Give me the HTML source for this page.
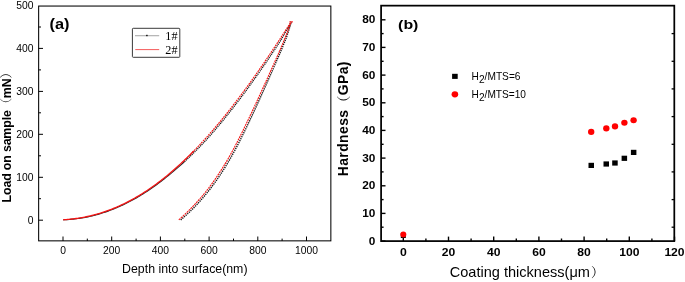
<!DOCTYPE html>
<html><head><meta charset="utf-8"><title>figure</title>
<style>html,body{margin:0;padding:0;background:#fff;}body{width:685px;height:282px;overflow:hidden;position:relative}</style></head>
<body>
<svg width="685" height="282" viewBox="0 0 685 282" style="display:block;position:absolute;left:0;top:0;will-change:transform;opacity:0.999">
<g font-family="Liberation Sans, Arial, sans-serif" fill="#000">
<rect x="38.65" y="6.05" width="292.2" height="234.8" fill="none" stroke="#000" stroke-width="1.05"/>
<line x1="38.6" x2="43" y1="220.2" y2="220.2" stroke="#000" stroke-width="1"/>
<text x="33.5" y="223.5" font-size="10.3" text-anchor="end">0</text>
<line x1="38.6" x2="43" y1="177.3" y2="177.3" stroke="#000" stroke-width="1"/>
<text x="33.5" y="180.6" font-size="10.3" text-anchor="end">100</text>
<line x1="38.6" x2="43" y1="134.3" y2="134.3" stroke="#000" stroke-width="1"/>
<text x="33.5" y="137.6" font-size="10.3" text-anchor="end">200</text>
<line x1="38.6" x2="43" y1="91.4" y2="91.4" stroke="#000" stroke-width="1"/>
<text x="33.5" y="94.7" font-size="10.3" text-anchor="end">300</text>
<line x1="38.6" x2="43" y1="48.4" y2="48.4" stroke="#000" stroke-width="1"/>
<text x="33.5" y="51.7" font-size="10.3" text-anchor="end">400</text>
<text x="33.5" y="8.8" font-size="10.3" text-anchor="end">500</text>
<line x1="38.6" x2="41" y1="198.7" y2="198.7" stroke="#000" stroke-width="1"/>
<line x1="38.6" x2="41" y1="155.8" y2="155.8" stroke="#000" stroke-width="1"/>
<line x1="38.6" x2="41" y1="112.8" y2="112.8" stroke="#000" stroke-width="1"/>
<line x1="38.6" x2="41" y1="69.9" y2="69.9" stroke="#000" stroke-width="1"/>
<line x1="38.6" x2="41" y1="27.0" y2="27.0" stroke="#000" stroke-width="1"/>
<line x1="63.0" x2="63.0" y1="241" y2="236.5" stroke="#000" stroke-width="1"/>
<text x="63.0" y="253.7" font-size="10.3" text-anchor="middle">0</text>
<line x1="111.7" x2="111.7" y1="241" y2="236.5" stroke="#000" stroke-width="1"/>
<text x="111.7" y="253.7" font-size="10.3" text-anchor="middle">200</text>
<line x1="160.4" x2="160.4" y1="241" y2="236.5" stroke="#000" stroke-width="1"/>
<text x="160.4" y="253.7" font-size="10.3" text-anchor="middle">400</text>
<line x1="209.1" x2="209.1" y1="241" y2="236.5" stroke="#000" stroke-width="1"/>
<text x="209.1" y="253.7" font-size="10.3" text-anchor="middle">600</text>
<line x1="257.8" x2="257.8" y1="241" y2="236.5" stroke="#000" stroke-width="1"/>
<text x="257.8" y="253.7" font-size="10.3" text-anchor="middle">800</text>
<line x1="306.5" x2="306.5" y1="241" y2="236.5" stroke="#000" stroke-width="1"/>
<text x="306.5" y="253.7" font-size="10.3" text-anchor="middle">1000</text>
<line x1="87.3" x2="87.3" y1="241" y2="238.6" stroke="#000" stroke-width="1"/>
<line x1="136.1" x2="136.1" y1="241" y2="238.6" stroke="#000" stroke-width="1"/>
<line x1="184.8" x2="184.8" y1="241" y2="238.6" stroke="#000" stroke-width="1"/>
<line x1="233.5" x2="233.5" y1="241" y2="238.6" stroke="#000" stroke-width="1"/>
<line x1="282.1" x2="282.1" y1="241" y2="238.6" stroke="#000" stroke-width="1"/>
<text x="184.8" y="272.5" font-size="12.1" text-anchor="middle" textLength="125.4" lengthAdjust="spacingAndGlyphs">Depth into surface(nm)</text>
<text transform="translate(11.4,202.4) rotate(-90)" font-size="12.4" font-weight="bold" textLength="136.3" lengthAdjust="spacing">Load on sample<tspan font-weight="normal" font-family="Noto Serif CJK SC, serif">（</tspan>mN<tspan font-weight="normal" font-family="Noto Serif CJK SC, serif">）</tspan></text>
<text x="49.5" y="29.2" font-size="14.2" font-weight="bold" textLength="20" lengthAdjust="spacingAndGlyphs">(a)</text>
<path d="M63.30,219.83 L64.75,219.76 L66.20,219.68 L67.65,219.59 L69.11,219.48 L70.56,219.36 L72.01,219.23 L73.46,219.09 L74.91,218.93 L76.36,218.76 L77.82,218.57 L79.27,218.37 L80.72,218.16 L82.17,217.93 L83.62,217.69 L85.07,217.43 L86.52,217.16 L87.96,216.86 L89.40,216.55 L90.83,216.22 L92.27,215.87 L93.71,215.51 L95.14,215.14 L96.58,214.75 L98.01,214.35 L99.45,213.93 L100.89,213.50 L102.32,213.05 L103.76,212.59 L105.20,212.11 L106.63,211.62 L108.07,211.11 L109.50,210.59 L110.94,210.05 L112.38,209.49 L113.81,208.92 L115.25,208.34 L116.69,207.74 L118.12,207.12 L119.56,206.49 L120.99,205.84 L122.43,205.17 L123.87,204.49 L125.30,203.80 L126.74,203.09 L128.18,202.36 L129.61,201.62 L131.05,200.86 L132.49,200.08 L133.92,199.29 L135.36,198.49 L136.79,197.66 L138.23,196.82 L139.67,195.97 L141.10,195.10 L142.54,194.21 L143.98,193.31 L145.41,192.39 L146.85,191.45 L148.28,190.50 L149.72,189.54 L151.16,188.55 L152.59,187.55 L154.03,186.54 L155.47,185.51 L156.90,184.46 L158.34,183.39 L159.77,182.31 L161.21,181.22 L162.65,180.11 L164.08,178.98 L165.52,177.84 L166.97,176.68 L168.42,175.52 L169.88,174.34 L171.34,173.14 L172.80,171.93 L174.26,170.70 L175.72,169.45 L177.18,168.20 L178.64,166.92 L180.09,165.63 L181.55,164.32 L183.01,163.00 L184.47,161.66" fill="none" stroke="#2a2a2a" stroke-width="1.1"/>
<path d="M184.47,161.66 L185.93,160.31 L187.39,158.94 L188.85,157.56 L190.30,156.16 L191.76,154.75 L193.22,153.32 L194.68,151.87 L196.14,150.41 L197.60,148.94 L199.06,147.45 L200.51,145.95 L201.97,144.43 L203.43,142.89 L204.89,141.34 L206.34,139.78 L207.77,138.18 L209.20,136.58 L210.64,134.96 L212.07,133.32 L213.50,131.67 L214.93,130.01 L216.37,128.33 L217.80,126.64 L219.23,124.94 L220.66,123.22 L222.10,121.49 L223.53,119.74 L224.96,117.98 L226.40,116.21 L227.83,114.43 L229.26,112.63 L230.69,110.82 L232.13,108.99 L233.56,107.16 L234.99,105.31 L236.42,103.45 L237.86,101.57 L239.29,99.69 L240.72,97.79 L242.16,95.88 L243.59,93.95 L245.02,92.02 L246.45,90.08 L247.89,88.12 L249.32,86.15 L250.75,84.17 L252.18,82.18 L253.62,80.18 L255.05,78.16 L256.48,76.14 L257.92,74.11 L259.35,72.06 L260.78,70.01 L262.21,67.95 L263.65,65.87 L265.08,63.79 L266.51,61.69 L267.94,59.59 L269.38,57.48 L270.81,55.36 L272.24,53.23 L273.67,51.09 L275.11,48.94 L276.54,46.79 L277.97,44.62 L279.41,42.45 L280.84,40.27 L282.15,38.00 L283.46,35.72 L284.77,33.43 L286.07,31.13 L287.38,28.83 L288.69,26.52 L289.99,24.20 L291.30,21.88" fill="none" stroke="#1a1a1a" stroke-width="1.3" stroke-dasharray="1.2 0.8"/>
<path d="M180.69,219.90 L182.14,218.66 L183.56,217.41 L184.96,216.17 L186.34,214.92 L187.69,213.68 L189.03,212.43 L190.34,211.19 L191.63,209.94 L192.87,208.70 L194.08,207.45 L195.28,206.21 L196.46,204.96 L197.62,203.72 L198.76,202.47 L199.88,201.23 L200.99,199.99 L202.08,198.74 L203.15,197.50 L204.21,196.25 L205.25,195.01 L206.28,193.76 L207.29,192.52 L208.28,191.27 L209.27,190.03 L210.23,188.78 L211.19,187.54 L212.13,186.29 L213.06,185.05 L213.97,183.81 L214.88,182.56 L215.77,181.32 L216.65,180.07 L217.51,178.83 L218.37,177.58 L219.22,176.34 L220.05,175.09 L220.88,173.85 L221.69,172.60 L222.50,171.36 L223.29,170.11 L224.08,168.87 L224.85,167.62 L225.62,166.38 L226.38,165.14 L227.13,163.89 L227.88,162.65 L228.61,161.40 L229.34,160.16 L230.06,158.91 L230.77,157.67 L231.47,156.42 L232.17,155.18 L232.86,153.93 L233.55,152.69 L234.23,151.44 L234.90,150.20 L235.57,148.95 L236.23,147.71 L236.89,146.47 L237.54,145.22 L238.19,143.98 L238.83,142.73 L239.47,141.49 L240.11,140.24 L240.74,139.00 L241.37,137.75 L241.99,136.51 L242.61,135.26 L243.22,134.02 L243.84,132.77 L244.45,131.53 L245.06,130.28 L245.66,129.04 L246.26,127.80 L246.86,126.55 L247.46,125.31 L248.05,124.06 L248.65,122.82 L249.24,121.57 L249.83,120.33 L250.41,119.08 L251.00,117.84 L251.58,116.59 L252.16,115.35 L252.74,114.10 L253.32,112.86 L253.90,111.62 L254.48,110.37 L255.05,109.13 L255.63,107.88 L256.20,106.64 L256.77,105.39 L257.34,104.15 L257.91,102.90 L258.48,101.66 L259.05,100.41 L259.61,99.17 L260.18,97.92 L260.74,96.68 L261.30,95.43 L261.86,94.19 L262.42,92.95 L262.98,91.70 L263.54,90.46 L264.10,89.21 L264.66,87.97 L265.21,86.72 L265.77,85.48 L266.33,84.23 L266.88,82.99 L267.44,81.74 L267.99,80.50 L268.55,79.25 L269.10,78.01 L269.65,76.76 L270.21,75.52 L270.76,74.28 L271.31,73.03 L271.86,71.79 L272.41,70.54 L272.96,69.30 L273.50,68.05 L274.05,66.81 L274.59,65.56 L275.14,64.32 L275.68,63.07 L276.22,61.83 L276.76,60.58 L277.30,59.34 L277.84,58.09 L278.37,56.85 L278.90,55.61 L279.44,54.36 L279.96,53.12 L280.49,51.87 L281.02,50.63 L281.54,49.38 L282.06,48.14 L282.57,46.89 L283.09,45.65 L283.60,44.40 L284.11,43.16 L284.61,41.91 L285.11,40.67 L285.61,39.43 L286.11,38.18 L286.55,36.94 L286.97,35.69 L287.39,34.45 L287.80,33.20 L288.20,31.96 L288.60,30.71 L289.00,29.47 L289.39,28.22 L289.78,26.98 L290.16,25.73 L290.54,24.49 L290.91,23.24 L291.27,22.00" fill="none" stroke="#1a1a1a" stroke-width="1.4" stroke-dasharray="1.3 0.9"/>
<path d="M192.24,152.53 L193.68,151.07 L195.11,149.60 L196.54,148.11 L197.97,146.61 L199.41,145.09 L200.84,143.56 L202.27,142.01 L203.71,140.45 L205.14,138.88 L206.57,137.29 L208.00,135.68 L209.44,134.06 L210.87,132.43 L212.30,130.78 L213.73,129.12 L215.17,127.45 L216.60,125.76 L218.03,124.06 L219.46,122.34 L220.90,120.61 L222.33,118.87 L223.76,117.11 L225.20,115.34 L226.63,113.56 L228.06,111.76 L229.49,109.95 L230.93,108.13 L232.36,106.29 L233.79,104.45 L235.22,102.59 L236.66,100.72 L238.09,98.83 L239.52,96.93 L240.96,95.03 L242.39,93.11 L243.82,91.17 L245.25,89.23 L246.69,87.27 L248.12,85.31 L249.55,83.33 L250.98,81.34 L252.42,79.34 L253.85,77.33 L255.28,75.31 L256.72,73.28 L258.15,71.24 L259.58,69.18 L261.01,67.12 L262.45,65.05 L263.88,62.97 L265.31,60.87 L266.74,58.77 L268.18,56.66 L269.61,54.54 L271.04,52.42 L272.47,50.28 L273.91,48.13 L275.34,45.98 L276.77,43.82 L278.21,41.65 L279.64,39.47 L281.07,37.28 L282.50,35.09 L283.94,32.89 L285.37,30.68 L286.80,28.47 L288.23,26.24 L289.67,24.02 L291.10,21.78" fill="none" stroke="#f41414" stroke-width="1.15" stroke-dasharray="1.8 0.8"/>
<path d="M63.30,219.73 L64.73,219.64 L66.17,219.54 L67.60,219.43 L69.03,219.31 L70.46,219.17 L71.90,219.02 L73.33,218.86 L74.76,218.68 L76.19,218.49 L77.63,218.28 L79.06,218.06 L80.49,217.83 L81.93,217.59 L83.36,217.32 L84.79,217.05 L86.22,216.76 L87.66,216.46 L89.09,216.14 L90.52,215.81 L91.95,215.46 L93.39,215.10 L94.82,214.73 L96.25,214.33 L97.68,213.93 L99.12,213.51 L100.55,213.07 L101.98,212.62 L103.42,212.16 L104.85,211.68 L106.28,211.18 L107.71,210.67 L109.15,210.14 L110.58,209.60 L112.01,209.04 L113.44,208.47 L114.88,207.88 L116.31,207.28 L117.74,206.66 L119.18,206.02 L120.61,205.37 L122.04,204.71 L123.47,204.02 L124.91,203.33 L126.34,202.61 L127.77,201.88 L129.20,201.14 L130.64,200.37 L132.07,199.60 L133.50,198.80 L134.94,197.99 L136.37,197.17 L137.80,196.33 L139.23,195.47 L140.67,194.60 L142.10,193.71 L143.53,192.80 L144.96,191.88 L146.40,190.94 L147.83,189.99 L149.26,189.02 L150.69,188.03 L152.13,187.03 L153.56,186.01 L154.99,184.98 L156.43,183.93 L157.86,182.86 L159.29,181.78 L160.72,180.68 L162.16,179.56 L163.59,178.43 L165.02,177.29 L166.45,176.13 L167.89,174.95 L169.32,173.75 L170.75,172.54 L172.19,171.32 L173.62,170.08 L175.05,168.82 L176.48,167.55 L177.92,166.26 L179.35,164.96 L180.78,163.64 L182.21,162.30 L183.65,160.95 L185.08,159.59 L186.51,158.20 L187.95,156.81 L189.38,155.40 L190.81,153.97 L192.24,152.53 L193.68,151.07" fill="none" stroke="#f41414" stroke-width="1.3"/>
<path d="M178.79,219.90 L180.20,218.66 L181.58,217.41 L182.94,216.17 L184.28,214.92 L185.60,213.68 L186.90,212.43 L188.18,211.19 L189.43,209.94 L190.67,208.70 L191.89,207.45 L193.09,206.21 L194.27,204.96 L195.43,203.72 L196.57,202.47 L197.70,201.23 L198.81,199.99 L199.90,198.74 L200.98,197.50 L202.04,196.25 L203.08,195.01 L204.11,193.76 L205.12,192.52 L206.12,191.27 L207.11,190.03 L208.08,188.78 L209.03,187.54 L209.98,186.29 L210.91,185.05 L211.83,183.81 L212.73,182.56 L213.63,181.32 L214.51,180.07 L215.38,178.83 L216.24,177.58 L217.08,176.34 L217.92,175.09 L218.75,173.85 L219.57,172.60 L220.37,171.36 L221.17,170.11 L221.96,168.87 L222.74,167.62 L223.51,166.38 L224.27,165.14 L225.03,163.89 L225.77,162.65 L226.51,161.40 L227.24,160.16 L227.97,158.91 L228.69,157.67 L229.40,156.42 L230.10,155.18 L230.80,153.93 L231.49,152.69 L232.17,151.44 L232.85,150.20 L233.53,148.95 L234.20,147.71 L234.86,146.47 L235.52,145.22 L236.17,143.98 L236.82,142.73 L237.47,141.49 L238.11,140.24 L238.75,139.00 L239.38,137.75 L240.01,136.51 L240.64,135.26 L241.26,134.02 L241.88,132.77 L242.49,131.53 L243.11,130.28 L243.72,129.04 L244.33,127.80 L244.93,126.55 L245.54,125.31 L246.14,124.06 L246.74,122.82 L247.33,121.57 L247.93,120.33 L248.52,119.08 L249.11,117.84 L249.70,116.59 L250.29,115.35 L250.88,114.10 L251.46,112.86 L252.05,111.62 L252.63,110.37 L253.21,109.13 L253.79,107.88 L254.37,106.64 L254.95,105.39 L255.53,104.15 L256.11,102.90 L256.68,101.66 L257.26,100.41 L257.83,99.17 L258.41,97.92 L258.98,96.68 L259.55,95.43 L260.13,94.19 L260.70,92.95 L261.27,91.70 L261.84,90.46 L262.41,89.21 L262.98,87.97 L263.55,86.72 L264.12,85.48 L264.69,84.23 L265.25,82.99 L265.82,81.74 L266.39,80.50 L266.96,79.25 L267.52,78.01 L268.09,76.76 L268.65,75.52 L269.21,74.28 L269.78,73.03 L270.34,71.79 L270.90,70.54 L271.46,69.30 L272.02,68.05 L272.58,66.81 L273.13,65.56 L273.69,64.32 L274.24,63.07 L274.80,61.83 L275.35,60.58 L275.90,59.34 L276.44,58.09 L276.99,56.85 L277.54,55.61 L278.08,54.36 L278.62,53.12 L279.16,51.87 L279.69,50.63 L280.23,49.38 L280.76,48.14 L281.29,46.89 L281.81,45.65 L282.34,44.40 L282.86,43.16 L283.37,41.91 L283.89,40.67 L284.40,39.43 L284.90,38.18 L285.41,36.94 L285.90,35.69 L286.40,34.45 L286.89,33.20 L287.37,31.96 L287.85,30.71 L288.33,29.47 L288.80,28.22 L289.27,26.98 L289.73,25.73 L290.18,24.49 L290.63,23.24 L291.07,22.00" fill="none" stroke="#f41414" stroke-width="1.1" stroke-dasharray="2.0 0.7"/>
<line x1="289.3" x2="293" y1="21.9" y2="21.9" stroke="#f41414" stroke-width="1"/>
<rect x="132.4" y="28.3" width="47.4" height="29" rx="0.8" fill="#fff" stroke="#3a3a3a" stroke-width="1"/>
<line x1="135" x2="159.2" y1="35.7" y2="35.7" stroke="#aaa" stroke-width="1.1"/>
<rect x="146.2" y="34.8" width="1.4" height="1.4" fill="#000"/>
<line x1="135.3" x2="159.2" y1="49.6" y2="49.6" stroke="#f03030" stroke-width="0.8"/>
<text x="165.3" y="40" font-size="12" textLength="12.2" lengthAdjust="spacingAndGlyphs" font-family="Liberation Serif, Noto Serif CJK SC, serif">1#</text>
<text x="165.3" y="54" font-size="12" textLength="12.2" lengthAdjust="spacingAndGlyphs" font-family="Liberation Serif, Noto Serif CJK SC, serif">2#</text>
</g>
<g font-family="Liberation Sans, Arial, sans-serif" fill="#000">
<rect x="381.1" y="5.65" width="293.2" height="235.45" fill="none" stroke="#000" stroke-width="1.75"/>
<line x1="381.1" x2="385.5" y1="241.1" y2="241.1" stroke="#000" stroke-width="1.4"/>
<text x="375.4" y="244.5" font-size="11.7" font-weight="bold" text-anchor="end" textLength="6.6" lengthAdjust="spacingAndGlyphs">0</text>
<line x1="381.1" x2="385.5" y1="213.4" y2="213.4" stroke="#000" stroke-width="1.4"/>
<text x="375.4" y="216.8" font-size="11.7" font-weight="bold" text-anchor="end" textLength="13.2" lengthAdjust="spacingAndGlyphs">10</text>
<line x1="381.1" x2="385.5" y1="185.8" y2="185.8" stroke="#000" stroke-width="1.4"/>
<text x="375.4" y="189.2" font-size="11.7" font-weight="bold" text-anchor="end" textLength="13.2" lengthAdjust="spacingAndGlyphs">20</text>
<line x1="381.1" x2="385.5" y1="158.1" y2="158.1" stroke="#000" stroke-width="1.4"/>
<text x="375.4" y="161.5" font-size="11.7" font-weight="bold" text-anchor="end" textLength="13.2" lengthAdjust="spacingAndGlyphs">30</text>
<line x1="381.1" x2="385.5" y1="130.4" y2="130.4" stroke="#000" stroke-width="1.4"/>
<text x="375.4" y="133.8" font-size="11.7" font-weight="bold" text-anchor="end" textLength="13.2" lengthAdjust="spacingAndGlyphs">40</text>
<line x1="381.1" x2="385.5" y1="102.8" y2="102.8" stroke="#000" stroke-width="1.4"/>
<text x="375.4" y="106.2" font-size="11.7" font-weight="bold" text-anchor="end" textLength="13.2" lengthAdjust="spacingAndGlyphs">50</text>
<line x1="381.1" x2="385.5" y1="75.1" y2="75.1" stroke="#000" stroke-width="1.4"/>
<text x="375.4" y="78.5" font-size="11.7" font-weight="bold" text-anchor="end" textLength="13.2" lengthAdjust="spacingAndGlyphs">60</text>
<line x1="381.1" x2="385.5" y1="47.4" y2="47.4" stroke="#000" stroke-width="1.4"/>
<text x="375.4" y="50.8" font-size="11.7" font-weight="bold" text-anchor="end" textLength="13.2" lengthAdjust="spacingAndGlyphs">70</text>
<line x1="381.1" x2="385.5" y1="19.8" y2="19.8" stroke="#000" stroke-width="1.4"/>
<text x="375.4" y="23.2" font-size="11.7" font-weight="bold" text-anchor="end" textLength="13.2" lengthAdjust="spacingAndGlyphs">80</text>
<line x1="381.1" x2="383.6" y1="227.2" y2="227.2" stroke="#000" stroke-width="1.4"/>
<line x1="674.3" x2="671.6" y1="227.2" y2="227.2" stroke="#000" stroke-width="1.3"/>
<line x1="381.1" x2="383.6" y1="199.6" y2="199.6" stroke="#000" stroke-width="1.4"/>
<line x1="674.3" x2="671.6" y1="199.6" y2="199.6" stroke="#000" stroke-width="1.3"/>
<line x1="381.1" x2="383.6" y1="171.9" y2="171.9" stroke="#000" stroke-width="1.4"/>
<line x1="674.3" x2="671.6" y1="171.9" y2="171.9" stroke="#000" stroke-width="1.3"/>
<line x1="381.1" x2="383.6" y1="144.3" y2="144.3" stroke="#000" stroke-width="1.4"/>
<line x1="674.3" x2="671.6" y1="144.3" y2="144.3" stroke="#000" stroke-width="1.3"/>
<line x1="381.1" x2="383.6" y1="116.6" y2="116.6" stroke="#000" stroke-width="1.4"/>
<line x1="674.3" x2="671.6" y1="116.6" y2="116.6" stroke="#000" stroke-width="1.3"/>
<line x1="381.1" x2="383.6" y1="88.9" y2="88.9" stroke="#000" stroke-width="1.4"/>
<line x1="674.3" x2="671.6" y1="88.9" y2="88.9" stroke="#000" stroke-width="1.3"/>
<line x1="381.1" x2="383.6" y1="61.3" y2="61.3" stroke="#000" stroke-width="1.4"/>
<line x1="674.3" x2="671.6" y1="61.3" y2="61.3" stroke="#000" stroke-width="1.3"/>
<line x1="381.1" x2="383.6" y1="33.6" y2="33.6" stroke="#000" stroke-width="1.4"/>
<line x1="674.3" x2="671.6" y1="33.6" y2="33.6" stroke="#000" stroke-width="1.3"/>
<line x1="403.3" x2="403.3" y1="241" y2="236.6" stroke="#000" stroke-width="1.4"/>
<text x="403.3" y="255.8" font-size="11.8" font-weight="bold" text-anchor="middle" textLength="6.8" lengthAdjust="spacingAndGlyphs">0</text>
<line x1="448.5" x2="448.5" y1="241" y2="236.6" stroke="#000" stroke-width="1.4"/>
<text x="448.5" y="255.8" font-size="11.8" font-weight="bold" text-anchor="middle" textLength="13.5" lengthAdjust="spacingAndGlyphs">20</text>
<line x1="493.7" x2="493.7" y1="241" y2="236.6" stroke="#000" stroke-width="1.4"/>
<text x="493.7" y="255.8" font-size="11.8" font-weight="bold" text-anchor="middle" textLength="13.5" lengthAdjust="spacingAndGlyphs">40</text>
<line x1="538.9" x2="538.9" y1="241" y2="236.6" stroke="#000" stroke-width="1.4"/>
<text x="538.9" y="255.8" font-size="11.8" font-weight="bold" text-anchor="middle" textLength="13.5" lengthAdjust="spacingAndGlyphs">60</text>
<line x1="584.1" x2="584.1" y1="241" y2="236.6" stroke="#000" stroke-width="1.4"/>
<text x="584.1" y="255.8" font-size="11.8" font-weight="bold" text-anchor="middle" textLength="13.5" lengthAdjust="spacingAndGlyphs">80</text>
<line x1="629.3" x2="629.3" y1="241" y2="236.6" stroke="#000" stroke-width="1.4"/>
<text x="629.3" y="255.8" font-size="11.8" font-weight="bold" text-anchor="middle" textLength="20.2" lengthAdjust="spacingAndGlyphs">100</text>
<line x1="674.5" x2="674.5" y1="241" y2="236.6" stroke="#000" stroke-width="1.4"/>
<text x="674.5" y="255.8" font-size="11.8" font-weight="bold" text-anchor="middle" textLength="20.2" lengthAdjust="spacingAndGlyphs">120</text>
<line x1="425.9" x2="425.9" y1="241" y2="238.5" stroke="#000" stroke-width="1.4"/>
<line x1="471.1" x2="471.1" y1="241" y2="238.5" stroke="#000" stroke-width="1.4"/>
<line x1="516.3" x2="516.3" y1="241" y2="238.5" stroke="#000" stroke-width="1.4"/>
<line x1="561.5" x2="561.5" y1="241" y2="238.5" stroke="#000" stroke-width="1.4"/>
<line x1="606.7" x2="606.7" y1="241" y2="238.5" stroke="#000" stroke-width="1.4"/>
<line x1="651.9" x2="651.9" y1="241" y2="238.5" stroke="#000" stroke-width="1.4"/>
<text x="449.7" y="277.3" font-size="14.2" textLength="140.2" lengthAdjust="spacingAndGlyphs">Coating thickness(μm</text>
<text x="591" y="277" font-size="13" font-family="Noto Serif CJK SC, Noto Sans CJK SC, serif">）</text>
<text transform="translate(347.9,176.3) rotate(-90)" font-size="13.9" font-weight="bold" textLength="114.8" lengthAdjust="spacing">Hardness<tspan font-weight="normal" font-family="Noto Serif CJK SC, serif">（</tspan>GPa)</text>
<text x="398.1" y="28.8" font-size="13.6" font-weight="bold" textLength="20.3" lengthAdjust="spacingAndGlyphs">(b)</text>
<rect x="452.1" y="73.8" width="5.6" height="5.1" fill="#000"/>
<ellipse cx="454.9" cy="94.3" rx="3.3" ry="3.15" fill="#f00"/>
<text x="471.6" y="79.8" font-size="10.6" textLength="48.9" lengthAdjust="spacingAndGlyphs">H<tspan dy="3.5">2</tspan><tspan dy="-3.5">/MTS=6</tspan></text>
<text x="471.6" y="97.6" font-size="10.6" textLength="54.4" lengthAdjust="spacingAndGlyphs">H<tspan dy="3.5">2</tspan><tspan dy="-3.5">/MTS=10</tspan></text>
<rect x="400.8" y="233" width="5" height="5" fill="#000"/>
<circle cx="403.3" cy="234.4" r="3" fill="#f00"/>
<rect x="588.5" y="162.8" width="5.5" height="5.2" fill="#000"/>
<rect x="603.5" y="161.4" width="5.5" height="5.2" fill="#000"/>
<rect x="612.2" y="160.4" width="5.5" height="5.2" fill="#000"/>
<rect x="621.6" y="155.7" width="5.5" height="5.2" fill="#000"/>
<rect x="630.9" y="149.8" width="5.5" height="5.2" fill="#000"/>
<ellipse cx="591.2" cy="131.9" rx="3.2" ry="3.05" fill="#f00"/>
<ellipse cx="606.3" cy="128.4" rx="3.2" ry="3.05" fill="#f00"/>
<ellipse cx="615" cy="126.4" rx="3.2" ry="3.05" fill="#f00"/>
<ellipse cx="624.4" cy="122.7" rx="3.2" ry="3.05" fill="#f00"/>
<ellipse cx="633.6" cy="120.2" rx="3.2" ry="3.05" fill="#f00"/>
</g>
</svg>
</body></html>
